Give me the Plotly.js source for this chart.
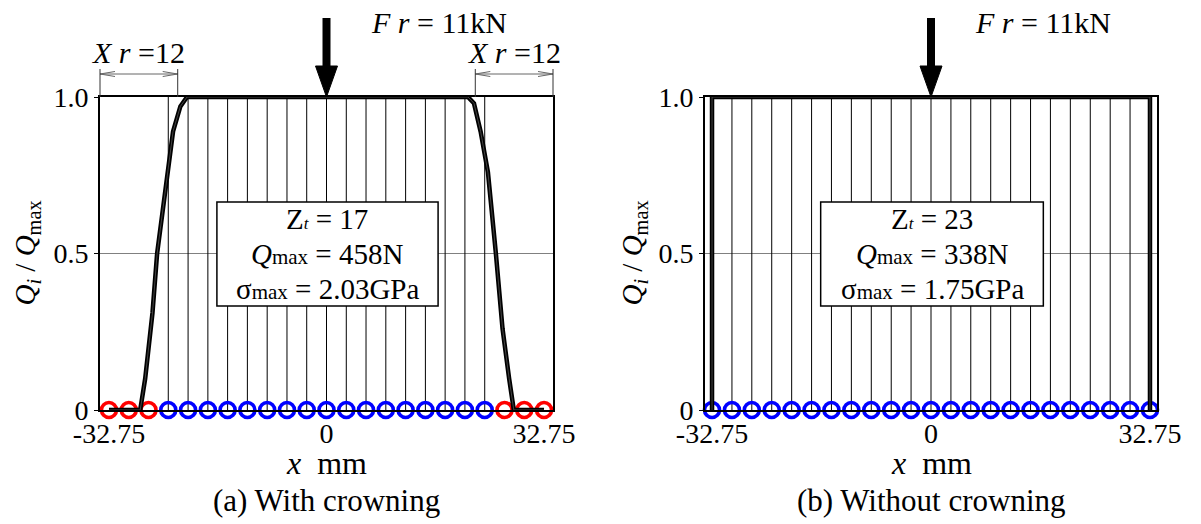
<!DOCTYPE html>
<html><head><meta charset="utf-8">
<script src="https://cdn.plot.ly/plotly-3.0.1.min.js"></script>
<style>html,body{margin:0;padding:0;background:#fff}#chart{width:1201px;height:524px}</style>
</head><body><div id="chart"></div><script>
// ---- data ----
const rollerX = [-32.75,-29.77,-26.80,-23.82,-20.84,-17.86,-14.89,-11.91,-8.93,-5.95,-2.98,0,
                 2.98,5.95,8.93,11.91,14.89,17.86,20.84,23.82,26.80,29.77,32.75];
const qCrowned = [0,0,0,1,1,1,1,1,1,1,1,1,1,1,1,1,1,1,1,1,0,0,0];
const qPlain   = [1,1,1,1,1,1,1,1,1,1,1,1,1,1,1,1,1,1,1,1,1,1,1];
const crownLeftX  = [-32.75,-28.05,-27.3,-26.2,-25.5,-24.7,-23.8,-23.1,-22.0,-21.0];
const crownLeftQ  = [0,0,0.10,0.31,0.50,0.63,0.79,0.89,0.97,1.0];
const crownRightX = [21.3,22.2,23.2,24.3,25.5,26.5,27.5,28.2,32.75];
const crownRightQ = [1.0,0.98,0.89,0.76,0.50,0.26,0.10,0,0];
const plainX = [-32.75,-32.75,32.75,32.75];
const plainQ = [0,1,1,0];
const yTickVals = [0,0.5,1];
const yTickText = ['0','0.5','1.0'];
const xTickVals = [-32.75,0,32.75];
const xTickText = ['-32.75','0','32.75'];
const ztValues = [17,23];
const qmaxValues = ['458N','338N'];
const sigmaValues = ['2.03GPa','1.75GPa'];
const captions = ['(a) With crowning','(b) Without crowning'];
const forceLabel = '<i>F r</i> = 11kN';
const crownLenLabel = '<i>X r</i> =12';
const crownLen = 12;

// ---- layout geometry ----
const W = 1201, H = 524, T = 97, B = 114;
const PH = H - T - B;
const domPx = [[100,553],[705,1157]];
const ranges = [[-34.1,34.1],[-33.8,33.8]];
const FONT = 'Liberation Serif';
function xp(k, xmm){ const d=domPx[k], r=ranges[k]; return (d[0] + (xmm-r[0])/(r[1]-r[0])*(d[1]-d[0]))/W; }
function yp(py){ return (T+PH-py)/PH; }

function stems(xs, qs){
  const sx=[], sy=[];
  xs.forEach((x,i)=>{ if(qs[i]>0){ sx.push(x,x,null); sy.push(0,qs[i],null);} });
  return {sx, sy};
}
const traces = [];
const panelData = [
  {q:qCrowned, cx:crownLeftX.concat(crownRightX), cq:crownLeftQ.concat(crownRightQ)},
  {q:qPlain, cx:plainX, cq:plainQ}
];
panelData.forEach((p,k)=>{
  const xa = k? 'x2':'x', ya = k? 'y2':'y';
  const s = stems(rollerX, p.q);
  traces.push({x:s.sx, y:s.sy, xaxis:xa, yaxis:ya, mode:'lines', line:{color:'#000', width:1}, cliponaxis:false, hoverinfo:'skip'});
  traces.push({x:rollerX, y:rollerX.map(()=>0), xaxis:xa, yaxis:ya, mode:'markers', cliponaxis:false,
    marker:{symbol:'circle-open', size:15, line:{width:3.6}, color:p.q.map(v=>v>0?'#0000ff':'#ff0000')}});
  traces.push({x:p.cx, y:p.cq, xaxis:xa, yaxis:ya, mode:'lines', line:{color:'#000', width:4.5}, cliponaxis:false});
  traces.push({x:p.cx, y:p.cq, xaxis:xa, yaxis:ya, mode:'lines', line:{color:'#555', width:0.8}, cliponaxis:false});
});

function axisX(k){
  return {domain:[domPx[k][0]/W, domPx[k][1]/W], range:ranges[k], anchor:k?'y2':'y',
    showline:true, mirror:true, linecolor:'#000', linewidth:2, ticks:'', showgrid:false, zeroline:false,
    tickmode:'array', tickvals:xTickVals, ticktext:xTickText, ticklabelstandoff:-3,
    tickfont:{family:FONT, size:28, color:'#000'}};
}
function axisY(k){
  return {domain:[0,1], range:[0,1], anchor:k?'x2':'x',
    showline:true, mirror:true, linecolor:'#000', linewidth:2, ticks:'outside', ticklen:4, tickcolor:'#000',
    showgrid:true, gridcolor:'#808080', gridwidth:1, zeroline:false,
    tickmode:'array', tickvals:yTickVals, ticktext:yTickText,
    tickfont:{family:FONT, size:28, color:'#000'}};
}

const annotations = [], shapes = [];
const f = (size)=>({family:FONT, size:size, color:'#000'});
[0,1].forEach(k=>{
  const cx = xp(k,0);
  // axis titles
  annotations.push({xref:'paper', yref:'paper', x:(k?633:26)/W, y:0.5, textangle:-90, showarrow:false,
    text:'<i>Q</i><sub><i>i</i></sub> / <i>Q</i><sub>max</sub>', font:f(29), xanchor:'center', yanchor:'middle'});
  annotations.push({xref:'paper', yref:'paper', x:cx, y:yp(463), showarrow:false,
    text:'<i>x</i>&nbsp;&nbsp;mm', font:f(32), xanchor:'center', yanchor:'middle'});
  annotations.push({xref:'paper', yref:'paper', x:cx, y:yp(501), showarrow:false,
    text:captions[k], font:f(31), xanchor:'center', yanchor:'middle'});
  // force label + arrow
  annotations.push({xref:'paper', yref:'paper', x:cx + 112/W, y:yp(22), showarrow:false,
    text:forceLabel, font:f(30), xanchor:'center', yanchor:'middle'});
  shapes.push({type:'line', xref:'paper', yref:'paper', x0:cx, x1:cx, y0:yp(18), y1:yp(68), line:{color:'#000', width:8}});
  shapes.push({type:'path', xref:'paper', yref:'paper',
    path:`M ${cx-11/W},${yp(66)} L ${cx+11/W},${yp(66)} L ${cx},${yp(97)} Z`, fillcolor:'#000', line:{color:'#000', width:1}});
  // info box
  const bx0 = xp(k,-16.5), bx1 = xp(k,16.8);
  shapes.push({type:'rect', xref:'paper', yref:'paper', x0:bx0, x1:bx1, y0:yp(202), y1:yp(306),
    fillcolor:'#fff', line:{color:'#000', width:1.5}});
  const bc = (bx0+bx1)/2;
  annotations.push({xref:'paper', yref:'paper', x:bc, y:yp(219), showarrow:false, font:f(29),
    text:'Z<span style="font-size:17px"><i>t</i></span> = '+ztValues[k], xanchor:'center', yanchor:'middle'});
  annotations.push({xref:'paper', yref:'paper', x:bc, y:yp(254), showarrow:false, font:f(29),
    text:'<i>Q</i><span style="font-size:21px">max</span> = '+qmaxValues[k], xanchor:'center', yanchor:'middle'});
  annotations.push({xref:'paper', yref:'paper', x:bc, y:yp(289), showarrow:false, font:f(29),
    text:'σ<span style="font-size:21px">max</span> = '+sigmaValues[k], xanchor:'center', yanchor:'middle'});
});
// crowning length markers (panel a)
const r0 = ranges[0];
[[r0[0], r0[0]+crownLen-0.3],[r0[1]-crownLen+0.3, r0[1]]].forEach(([a,b])=>{
  const xa = xp(0,a), xb = xp(0,b), yy = yp(74), dy = 2.5/PH, dx = 15/W;
  shapes.push({type:'line', xref:'paper', yref:'paper', x0:xa, x1:xb, y0:yy, y1:yy, line:{color:'#666', width:1}});
  shapes.push({type:'path', xref:'paper', yref:'paper', path:`M ${xa+dx},${yy+dy} L ${xa},${yy} L ${xa+dx},${yy-dy}`, line:{color:'#666', width:1}});
  shapes.push({type:'path', xref:'paper', yref:'paper', path:`M ${xb-dx},${yy+dy} L ${xb},${yy} L ${xb-dx},${yy-dy}`, line:{color:'#666', width:1}});
  [xa,xb].forEach(xx=>shapes.push({type:'line', xref:'paper', yref:'paper', x0:xx, x1:xx, y0:yp(69), y1:yp(97), line:{color:'#333', width:1}}));
  annotations.push({xref:'paper', yref:'paper', x:(xa+xb)/2, y:yp(52), showarrow:false, font:f(30),
    text:crownLenLabel, xanchor:'center', yanchor:'middle'});
});

const layout = {
  width:W, height:H, margin:{l:0, r:0, t:T, b:B, pad:0},
  paper_bgcolor:'#fff', plot_bgcolor:'#fff', showlegend:false,
  font:{family:FONT, color:'#000'},
  xaxis:axisX(0), yaxis:axisY(0), xaxis2:axisX(1), yaxis2:axisY(1),
  annotations, shapes
};
Plotly.newPlot('chart', traces, layout, {staticPlot:true, displayModeBar:false});
</script></body></html>
